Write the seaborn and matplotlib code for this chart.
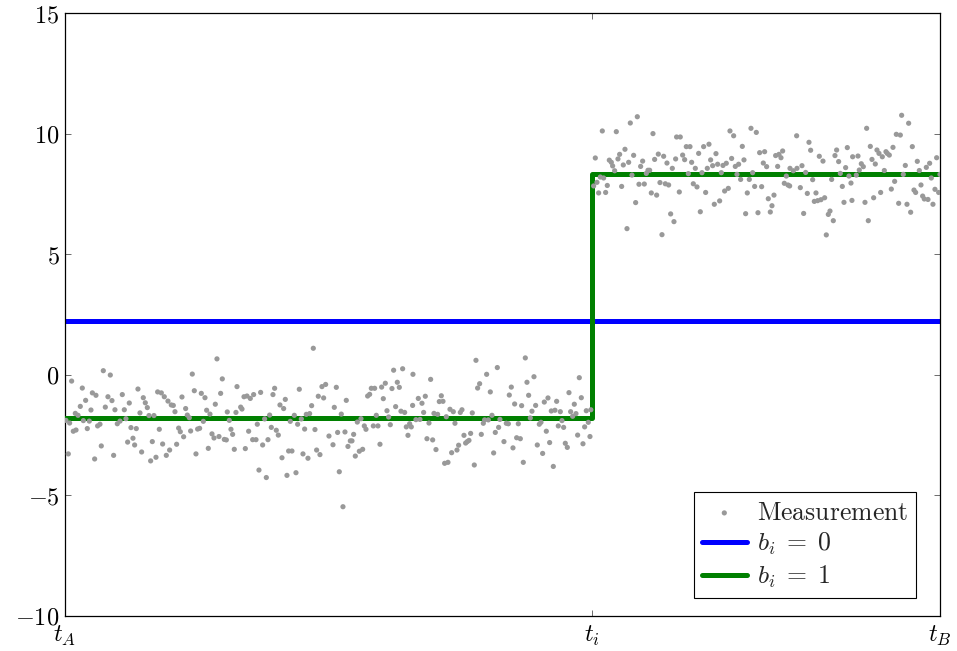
import numpy as np
import pandas as pd
import matplotlib
matplotlib.use("Agg")
import matplotlib.pyplot as plt
import seaborn as sns

# Measurements before the switching instant t_i (time in % of [t_A, t_B])
t_before = [
    4.38, 5.18, 0.76, 1.98, 3.13, 3.54, 2.36, 1.75, 1.18, 1.49, 2.97, 4.61, 4.91, 5.37, 6.55,
    7.35, 8.34, 8.95, 9.18, 9.41, 8.57, 5.71, 6.78, 6.97, 6.29, 5.98, 0.11, 0.53, 2.10, 2.78,
    4.00, 3.73, 1.26, 0.95, 2.55, 7.54, 8.15, 7.77, 7.16, 7.96, 4.15, 8.76, 0.38, 5.56, 3.39,
    9.60, 10.17, 9.79, 9.98, 10.40, 10.59, 11.01, 11.35, 11.77, 12.15, 12.38, 12.57, 11.16,
    10.78, 11.58, 11.96, 12.76, 12.99, 13.18, 13.56, 13.37, 13.79, 13.98, 14.21, 14.36, 14.55,
    14.78, 14.97, 15.16, 15.39, 15.58, 15.81, 16.00, 16.19, 16.57, 16.38, 16.80, 17.03, 17.18,
    17.37, 17.60, 17.79, 17.98, 18.21, 18.44, 18.55, 18.78, 18.97, 19.16, 19.35, 19.54, 19.66,
    20.08, 20.23, 20.46, 20.80, 21.18, 21.56, 22.36, 20.61, 20.99, 21.45, 21.83, 21.98, 22.17,
    22.59, 22.82, 23.01, 23.20, 23.39, 23.58, 23.77, 23.96, 24.15, 24.38, 24.57, 24.80, 24.99,
    25.18, 25.37, 25.56, 25.94, 25.75, 26.21, 26.40, 26.59, 26.78, 27.01, 27.20, 27.39, 27.58,
    27.77, 27.96, 28.19, 28.38, 28.57, 28.76, 28.95, 29.14, 29.37, 29.56,
    29.79, 30.17, 30.63, 30.78, 31.01, 31.16, 31.35, 31.58, 31.77, 32.00, 32.15, 32.34, 32.61,
    32.80, 32.99, 33.18, 33.41, 33.64, 33.83, 34.02, 34.21, 34.40, 34.59, 34.82, 35.01, 35.24,
    35.39, 35.58, 35.77, 36.00, 36.19, 36.38, 36.61, 36.80, 36.99, 37.18, 37.37, 37.56, 37.79,
    37.98, 38.21, 38.40, 38.59, 38.82, 39.01, 39.20, 39.39, 39.58, 39.77, 39.73,
    40.38, 40.80, 41.18, 40.99, 40.57, 40.11, 41.79, 41.60, 41.37, 42.02, 42.17, 42.40, 42.59,
    42.78, 43.01, 43.20, 43.39, 43.58, 43.77, 44.00, 44.19, 44.38, 44.57, 44.80, 44.99, 45.18,
    45.37, 45.60, 45.79, 45.98, 46.17, 46.36, 46.55, 46.78, 46.97, 47.16, 47.39, 47.58, 47.81,
    47.96, 48.19, 48.38, 48.61, 48.80, 48.99, 49.18, 49.41, 49.56, 49.71,
    50.17, 50.44, 50.67, 50.78, 51.01, 51.20, 51.39, 51.62, 51.81, 52.04, 52.19, 52.38, 52.61,
    52.80, 52.99, 53.18, 53.37, 53.60, 53.79, 53.98, 54.21, 54.40, 54.59, 54.78, 55.01, 55.20,
    55.39, 55.58, 55.81, 56.00, 56.19, 56.38, 56.61, 56.80, 56.99, 57.18, 57.41, 57.60, 57.79,
    58.02, 58.21, 58.40, 58.59, 58.78, 59.01, 59.20, 59.39, 59.58, 59.81, 60.00, 60.10,
]
y_before = [
    0.17, -0.01, -0.26, -0.55, -0.75, -0.85, -1.06, -1.31, -1.60, -1.68, -1.46, -1.34, -0.91,
    -1.07, -0.82, -1.17, -0.59, -0.95, -1.16, -1.36, -1.58, -1.45, -1.45, -1.82, -1.92, -2.03,
    -1.89, -2.00, -1.90, -1.92, -2.05, -2.12, -2.29, -2.34, -2.23, -2.19, -2.23, -2.63, -2.79,
    -2.91, -2.95, -3.20, -3.28, -3.34, -3.49,
    -1.69, -1.69, -3.57, -2.77, -3.42, -0.71, -0.75, -0.91, -1.09, -1.25, -1.27, -1.53, -2.87,
    -2.26, -3.34, -3.12, -2.88, -2.21, -2.36, -2.57, -0.92, -1.40, -1.67, -1.78, -2.33, 0.03,
    -0.66, -3.28, -2.25, -2.22, -0.77, -1.93, -0.95, -1.47, -1.63, -3.05, -2.45, -2.62, -1.22,
    0.66, -2.56, -0.77, -0.17, -2.68, -2.70, -1.54, -1.89, -2.26, -2.47, -3.09, -1.56, -0.49,
    -1.34, -1.42, -0.91, -0.88, -0.98, -0.82, -0.73, -3.06, -2.34, -2.69, -2.69, -2.05, -3.95,
    -2.91, -1.83, -4.26, -2.69, -1.67, -2.18, -0.82, -0.56, -2.30, -2.50, -1.25, -3.44, -1.40,
    -1.02, -4.17, -3.16, -3.16, -1.93, -1.68, -4.06, -2.05, -0.60, -1.83, -3.28, -2.25, -1.64,
    -3.46, -1.61, -1.28, 1.10, -2.27, -3.12, -0.89, -3.31, -0.49, -0.96,
    -0.40, -2.54, -2.90, -1.35, -0.52, -2.39, -4.02, -1.63, -5.47, -2.37, -1.06, -2.97, -2.74,
    -2.74, -2.47, -3.37, -1.96, -3.17, -1.82, -3.09, -2.12, -2.26, -0.88, -0.81, -0.56, -2.12,
    -0.56, -1.68, -2.12, -2.88, -0.51, -0.99, -0.35, -1.49, -1.75, -2.07, -0.57, 0.19, -1.32,
    -0.31, -0.52, -1.51, 0.25, -1.56, -2.16, -2.51, -2.03, -2.16, 0.02, -1.27,
    -0.98, -1.18, -0.89, -1.56, -1.85, -1.86, -0.19, -2.00, -2.65, -2.70, -1.60, -3.10, -1.64,
    -1.11, -0.87, -1.10, -3.67, -1.74, -3.63, -1.43, -3.23, -1.53, -2.01, -3.12, -2.92, -1.56,
    -1.45, -2.51, -2.83, -2.77, -2.72, -2.43, -1.58, -3.74, 0.60, -0.55, -0.37, -2.47, -2.01,
    -1.87, 0.02, -1.87, -0.71, -1.68, -3.24, -2.39, 0.30, -2.18, -1.85,
    -2.77, -2.01, -2.03, -0.84, -0.51, -3.03, -1.21, -2.61, -2.03, -2.65, -1.28, -3.63, 0.70,
    -0.31, -0.85, -1.79, -1.51, -0.08, -1.27, -2.91, -2.05, -1.97, -3.26, -1.13, -2.34, -0.96,
    -2.81, -1.50, -3.80, -1.47, -1.10, -2.12, -1.53, -1.90, -2.18, -2.84, -3.01, -0.74, -1.53,
    -1.72, -1.22, -1.61, -2.50, -0.12, -0.95, -2.86, -2.16, -1.49, -1.97, -2.56, -1.45,
]

# Measurements after the switching instant
t_after = [
    60.42, 60.80, 60.99, 61.18, 61.41, 61.56, 61.79, 61.98, 60.61, 62.21, 62.44, 62.59, 62.82,
    63.01, 63.20, 63.39, 63.62, 63.81, 64.00, 64.23, 64.42, 64.61, 64.80, 64.99, 65.22, 65.41,
    65.60, 65.79, 66.02, 66.21, 66.44, 66.63, 66.82, 67.01, 67.20, 67.39, 67.62, 67.81, 68.00,
    68.23, 68.42, 68.61, 68.80, 68.99, 69.22, 69.41, 69.60, 69.79, 69.90,
    70.32, 70.21, 70.59, 70.82, 71.01, 71.24, 71.43, 71.62, 71.81, 72.04, 72.23, 72.42, 72.61,
    72.80, 72.99, 73.22, 73.41, 73.60, 73.79, 74.02, 74.21, 74.40, 74.59, 74.82, 75.01, 75.20,
    75.39, 75.58, 75.81, 76.00, 76.19, 76.42, 76.61, 76.80, 76.99, 77.22, 77.41, 77.60, 77.79,
    77.98, 78.21, 78.40, 78.59, 78.82, 79.01, 79.20, 79.39, 79.62, 79.81, 79.96,
    80.19, 80.38, 80.61, 80.80, 81.03, 81.22, 81.45, 81.60, 81.83, 82.02, 82.21, 82.44, 82.63,
    82.82, 82.86, 83.24, 83.62, 83.66, 84.04, 84.23, 84.42, 84.65, 84.84, 85.03, 85.22, 85.45,
    85.64, 85.83, 86.02, 86.21, 86.40, 86.63, 86.82, 87.01, 87.24, 87.43, 87.62, 87.81, 88.00,
    88.19, 88.42, 88.61, 88.84, 89.03, 89.22, 89.41, 89.60, 89.83, 90.02, 89.94,
    90.63, 90.44, 90.78, 91.01, 91.24, 91.43, 91.62, 91.81, 92.04, 92.23, 92.42, 92.61, 92.80,
    93.03, 93.22, 93.41, 93.64, 93.83, 93.98, 94.21, 94.44, 94.63, 94.82, 95.01, 95.28, 95.47,
    95.62, 95.81, 96.04, 96.23, 96.42, 96.65, 96.84, 97.03, 97.22, 97.41, 97.64, 97.83, 98.02,
    98.21, 98.44, 98.63, 98.82, 99.01, 99.20, 99.43, 99.62, 99.85, 100.0,
]
y_after = [
    7.83, 7.98, 7.54, 8.20, 10.11, 8.16, 7.56, 7.85, 8.99, 8.90, 8.81, 8.66, 8.46, 10.08, 8.95,
    9.14, 7.81, 8.70, 9.35, 6.06, 8.81, 10.44, 8.28, 9.10, 7.14, 10.70, 7.90, 8.64, 8.86, 7.91,
    8.35, 8.48, 8.48, 7.54, 10.00, 8.93, 7.45, 9.15, 7.97, 5.81, 9.06, 7.92, 8.78, 7.87, 6.67,
    8.56, 6.35, 8.95, 9.86,
    9.86, 7.58, 9.11, 8.92, 9.46, 8.34, 9.46, 8.81, 7.92, 8.56, 7.79, 9.18, 6.76, 8.38, 9.46,
    7.56, 8.56, 9.56, 8.91, 8.67, 7.07, 9.17, 8.73, 7.21, 8.38, 8.68, 7.62, 8.77, 7.73, 10.11,
    8.97, 9.91, 8.64, 8.31, 8.73, 8.10, 9.47, 8.91, 6.68, 7.54, 8.10, 10.22, 8.38, 7.81, 10.05,
    6.72, 9.21, 7.80, 8.78, 9.25,
    8.63, 7.30, 6.75, 7.01, 7.45, 9.09, 8.64, 9.14, 9.00, 9.28, 7.94, 8.24, 7.87, 7.83, 8.56,
    8.46, 9.91, 8.56, 7.76, 8.67, 6.69, 8.39, 7.52, 9.64, 9.31, 8.09, 7.19, 7.54, 7.22, 9.06,
    7.26, 8.86, 7.34, 5.80, 6.65, 6.79, 8.10, 6.39, 9.09, 9.32, 8.84, 8.35, 7.81, 7.15, 8.59,
    9.42, 8.24, 7.95, 9.04, 7.23,
    9.07, 8.28, 8.49, 8.75, 8.63, 7.15, 10.22, 6.39, 9.47, 8.93, 7.34, 8.74, 9.32, 9.18, 7.56,
    9.04, 8.47, 9.25, 9.18, 9.11, 7.70, 9.43, 8.02, 9.97, 7.11, 9.94, 10.76, 8.31, 8.68, 7.07,
    10.43, 6.74, 9.46, 7.66, 7.56, 8.85, 8.47, 7.87, 7.41, 7.29, 8.60, 7.27, 8.77, 8.16, 7.07,
    7.69, 9.00, 7.56, 8.31,
]

# Hypotheses: constant level (b_i = 0) and a jump at t_i (b_i = 1)
t_start, t_switch, t_end = 0.0, 60.2, 100.0
level_h0 = 2.23
level_h1_before = -1.80
level_h1_after = 8.33

x_ticks = [t_start, t_switch, t_end]
x_tick_labels = [r"$t_A$", r"$t_i$", r"$t_B$"]
y_ticks = [-10, -5, 0, 5, 10, 15]

sns.set_theme(style="white")
plt.rcParams["mathtext.fontset"] = "cm"
plt.rcParams["font.family"] = ["DejaVu Serif"]

meas = pd.DataFrame({"t": t_before + t_after, "y": y_before + y_after})
h0 = pd.DataFrame({"t": [t_start, t_end], "y": [level_h0, level_h0]})
h1 = pd.DataFrame({"t": [t_start, t_switch, t_end],
                   "y": [level_h1_before, level_h1_after, level_h1_after]})

fig = plt.figure(figsize=(9.57, 6.51), dpi=100)
ax = fig.add_axes([0.0679, 0.0538, 0.9143, 0.9262])

sns.scatterplot(data=meas, x="t", y="y", ax=ax, color="#999999", s=14,
                edgecolor="none", linewidth=0, zorder=4, label=r"$\mathrm{Measurement}$")
sns.lineplot(data=h0, x="t", y="y", ax=ax, color="#0000ff", linewidth=3.6,
             zorder=2, label=r"$b_i \;=\; 0$")
sns.lineplot(data=h1, x="t", y="y", ax=ax, color="#008000", linewidth=3.6,
             drawstyle="steps-post", zorder=3, label=r"$b_i \;=\; 1$")

ax.set_xlim(t_start, t_end)
ax.set_ylim(-10, 15)
ax.set_xticks(x_ticks)
ax.set_xticklabels(x_tick_labels)
ax.set_yticks(y_ticks)
ax.set_yticklabels([rf"${v}$" if v >= 0 else rf"$-{abs(v)}$" for v in y_ticks])
ax.set_xlabel("")
ax.set_ylabel("")

for side in ax.spines.values():
    side.set_color("black")
    side.set_linewidth(0.9)

ax.tick_params(axis="both", which="major", direction="in", length=4.5, width=0.6,
               color="#555555", labelsize=17.5, top=True, right=True, bottom=True, left=True,
               labelcolor="black", pad=4)
ax.tick_params(axis="x", pad=6)

leg = ax.legend(loc="lower right", fontsize=18.5, frameon=True, fancybox=False,
                edgecolor="black", framealpha=1, borderpad=0.3, handlelength=1.75,
                handletextpad=0.4, labelspacing=0.25, markerscale=1.0,
                borderaxespad=0, bbox_to_anchor=(0.9726, 0.0299))
leg.get_frame().set_linewidth(0.8)

fig.savefig("out.png", dpi=100)
